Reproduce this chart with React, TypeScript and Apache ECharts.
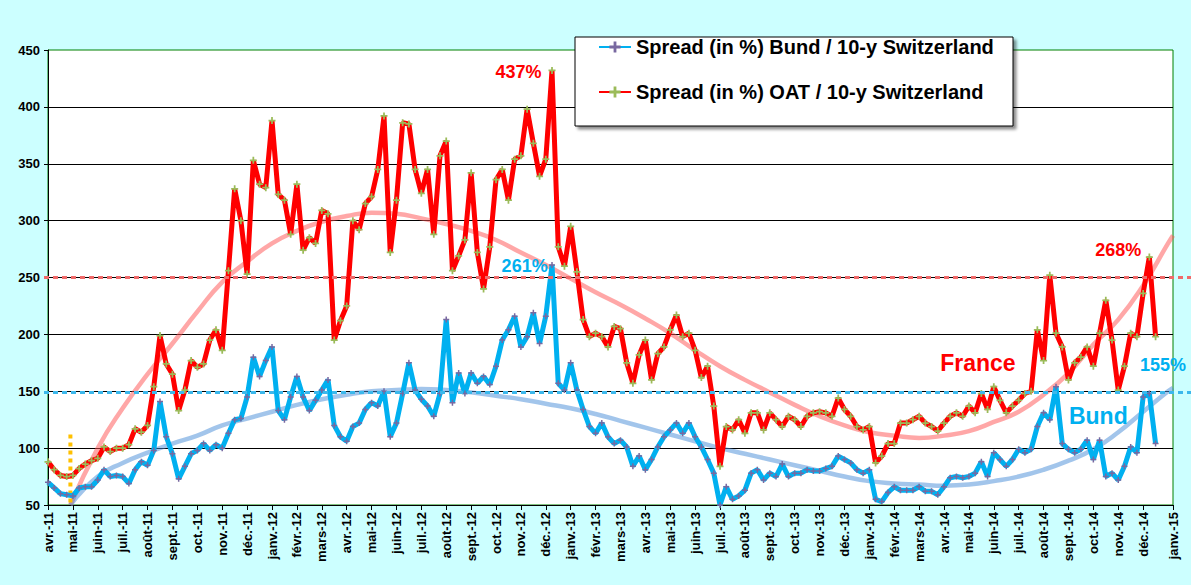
import { useEffect, useRef } from 'react'
import * as echarts from 'echarts'

// one tick per month, avr.-11 .. janv.-15
const monthLabels = [
  'avr.-11', 'mai-11', 'juin-11', 'juil.-11', 'août-11', 'sept.-11', 'oct.-11', 'nov.-11', 'déc.-11',
  'janv.-12', 'févr.-12', 'mars-12', 'avr.-12', 'mai-12', 'juin-12', 'juil.-12', 'août-12', 'sept.-12',
  'oct.-12', 'nov.-12', 'déc.-12', 'janv.-13', 'févr.-13', 'mars-13', 'avr.-13', 'mai-13', 'juin-13',
  'juil.-13', 'août-13', 'sept.-13', 'oct.-13', 'nov.-13', 'déc.-13', 'janv.-14', 'févr.-14', 'mars-14',
  'avr.-14', 'mai-14', 'juin-14', 'juil.-14', 'août-14', 'sept.-14', 'oct.-14', 'nov.-14', 'déc.-14',
  'janv.-15',
]

// weekly readings (4 per month), starting at avr.-11
const oatSpread = [
  88, 81, 76, 75, 76, 82, 86, 89,
  91, 101, 97, 100, 100, 103, 117, 114,
  120, 154, 199, 174, 165, 133, 151, 177,
  171, 174, 195, 204, 186, 256, 328, 300,
  253, 353, 332, 329, 388, 323, 318, 288,
  332, 274, 285, 280, 309, 306, 195, 212,
  225, 300, 292, 315, 321, 345, 392, 272,
  318, 386, 385, 345, 324, 345, 288, 357,
  370, 256, 269, 283, 342, 272, 240, 277,
  336, 345, 318, 354, 357, 398, 368, 339,
  354, 432, 277, 260, 295, 255, 213, 198,
  201, 198, 189, 207, 205, 175, 157, 182,
  195, 160, 183, 189, 204, 217, 198, 201,
  186, 162, 172, 137, 84, 119, 116, 125,
  113, 131, 131, 116, 131, 125, 119, 128,
  125, 119, 128, 131, 132, 131, 128, 144,
  134, 128, 119, 116, 119, 87, 93, 104,
  104, 122, 122, 125, 128, 122, 119, 115,
  122, 128, 131, 128, 137, 131, 148, 134,
  154, 142, 131, 137, 142, 148, 150, 204,
  177, 252, 201, 189, 160, 175, 180, 189,
  172, 201, 230, 195, 151, 172, 201, 198,
  236, 268, 198,
]

const bundSpread = [
  70, 65, 60, 59, 58, 65, 66, 66,
  72, 81, 75, 76, 75, 69, 81, 88,
  85, 98, 141, 110, 95, 73, 84, 95,
  98, 104, 98, 103, 100, 113, 125, 126,
  145, 180, 163, 177, 189, 133, 125, 145,
  163, 145, 133, 142, 151, 160, 120, 110,
  106, 119, 122, 134, 140, 137, 150, 110,
  122, 148, 175, 151, 143, 137, 128, 148,
  213, 140, 166, 148, 166, 157, 163, 156,
  172, 195, 204, 216, 189, 198, 219, 192,
  216, 261, 157, 151, 175, 151, 134, 119,
  113, 122, 110, 104, 107, 101, 84, 93,
  81, 90, 101, 110, 116, 122, 113, 122,
  110, 101, 90, 78, 50, 66, 55, 58,
  63, 78, 81, 72, 78, 75, 86, 75,
  78, 78, 81, 80, 80, 82, 84, 93,
  90, 87, 81, 78, 81, 55, 53, 61,
  66, 63, 63, 63, 66, 62, 62, 59,
  66, 74, 75, 74, 75, 78, 88, 75,
  96, 90, 84, 90, 99, 96, 99, 119,
  131, 125, 154, 104, 99, 96, 99, 107,
  90, 107, 75, 78, 72, 84, 101, 96,
  145, 148, 104,
]

// fitted trend curves, sampled monthly
const trendMonths = [
  0.9, 2, 3, 4, 5, 6, 7, 8, 9, 10, 11, 12, 13, 14, 15, 16, 17, 18, 19, 20, 21, 22, 23,
  24, 25, 26, 27, 28, 29, 30, 31, 32, 33, 34, 35, 36, 37, 38, 39, 40, 41, 42, 43, 44, 45, 45.2,
]
const oatTrend = [
  50, 100, 135, 165, 192, 220, 246, 264, 280, 291, 299, 304, 307, 306, 302, 297, 291, 283, 272, 261, 249, 237, 226,
  214, 201, 186, 172, 160, 149, 138, 128, 120, 114, 111, 109, 111, 115, 123, 132, 147, 166, 191, 213, 243, 280, 287,
]
const bundTrend = [
  50, 75, 87, 96, 104, 111, 120, 126, 132, 138, 143, 147, 150, 151, 152, 151, 149, 146, 143, 139, 135, 130, 124,
  118, 112, 106, 100, 95, 90, 85, 80, 75, 71, 69, 68, 67, 68, 71, 75, 81, 89, 99, 114, 132, 150, 153,
]

const yTicks = [50, 100, 150, 200, 250, 300, 350, 400, 450]
const refLevels = { oat: 250, bund: 149 }
const oldTargetMonth = 0.9
const oldTargetRange = [112, 50]

const BUND_NAME = 'Spread (in %) Bund / 10-y Switzerland'
const OAT_NAME = 'Spread (in %) OAT / 10-y Switzerland'
const STEP = 0.25

const PLUS = 'path://M3,0H5V3H8V5H5V8H3V5H0V3H3Z'
const FONT = 'Liberation Sans, Arial, sans-serif'

function App() {
  const chartRef = useRef<HTMLDivElement>(null)

  useEffect(() => {
    if (!chartRef.current) return
    const chart = echarts.init(chartRef.current, undefined, { renderer: 'svg' })

    const toPoints = (vals: number[]) => vals.map((v, i) => [i * STEP, v])
    const trendPoints = (vals: number[]) => vals.map((v, i) => [trendMonths[i], v])

    chart.setOption({
      animation: false,
      backgroundColor: '#ccffff',
      grid: {
        left: 48,
        right: 18,
        top: 50,
        bottom: 80,
        show: true,
        backgroundColor: '#ffffff',
        borderColor: '#008000',
        borderWidth: 1,
      },
      legend: {
        data: [BUND_NAME, OAT_NAME],
        orient: 'vertical',
        left: 598,
        top: 37,
        padding: 0,
        itemGap: 25,
        itemWidth: 32,
        itemHeight: 14,
        z: 6,
        textStyle: { fontFamily: FONT, fontWeight: 'bold', fontSize: 20, color: '#000' },
      },
      xAxis: {
        type: 'value',
        min: 0,
        max: 45.2,
        interval: 1,
        axisLine: { show: true, onZero: false, lineStyle: { color: '#000', width: 1 } },
        axisTick: { show: true, length: 5, lineStyle: { color: '#000' } },
        splitLine: { show: false },
        axisLabel: {
          rotate: 90,
          margin: 7,
          fontFamily: FONT,
          fontWeight: 'bold',
          fontSize: 13,
          color: '#000',
          showMaxLabel: true,
          formatter: (v: number) => monthLabels[Math.round(v)] ?? '',
        },
      },
      yAxis: {
        type: 'value',
        min: yTicks[0],
        max: yTicks[yTicks.length - 1],
        interval: 50,
        axisLine: { show: true, lineStyle: { color: '#000', width: 1 } },
        axisTick: { show: true, length: 4, lineStyle: { color: '#000' } },
        splitLine: { show: true, showMinLine: false, showMaxLine: false, lineStyle: { color: '#000', width: 1 } },
        axisLabel: { fontFamily: FONT, fontWeight: 'bold', fontSize: 13, color: '#000', margin: 8 },
      },
      series: [
        {
          name: 'trend-oat',
          type: 'line',
          data: trendPoints(oatTrend),
          smooth: true,
          showSymbol: false,
          silent: true,
          lineStyle: { color: 'rgba(255,80,80,0.5)', width: 4.5 },
          z: 1,
        },
        {
          name: 'trend-bund',
          type: 'line',
          data: trendPoints(bundTrend),
          smooth: true,
          showSymbol: false,
          silent: true,
          lineStyle: { color: 'rgba(70,140,215,0.5)', width: 4.5 },
          z: 1,
        },
        {
          name: 'old-target',
          type: 'line',
          data: oldTargetRange.map((v) => [oldTargetMonth, v]),
          showSymbol: false,
          silent: true,
          lineStyle: { color: '#ffc000', width: 4, type: [4, 4] },
          z: 1,
        },
        {
          name: BUND_NAME,
          type: 'line',
          data: toPoints(bundSpread),
          symbol: PLUS,
          symbolSize: 6,
          showAllSymbol: true,
          lineStyle: { color: '#00b0f0', width: 5 },
          itemStyle: { color: '#7868a0' },
          z: 2,
        },
        {
          name: OAT_NAME,
          type: 'line',
          data: toPoints(oatSpread),
          symbol: PLUS,
          symbolSize: 7,
          showAllSymbol: true,
          lineStyle: { color: '#ff0000', width: 5 },
          itemStyle: { color: '#9bbb59' },
          z: 3,
        },
      ],
    })

    const px = (x: number, y: number) => chart.convertToPixel({ gridIndex: 0 }, [x, y]) as number[]
    const width = chart.getWidth()
    const left = px(0, 50)[0] - 4

    const label = (text: string, x: number, y: number, color: string, size: number) => {
      const [cx, cy] = px(x, y)
      return {
        type: 'text',
        x: cx,
        y: cy,
        z: 10,
        style: {
          text,
          fill: color,
          fontFamily: FONT,
          fontWeight: 'bold',
          fontSize: size,
          align: 'center',
          verticalAlign: 'middle',
        },
      }
    }

    const yOat = px(0, refLevels.oat)[1]
    const yBund = px(0, refLevels.bund)[1]

    chart.setOption({
      graphic: [
        {
          type: 'line',
          z: 4,
          shape: { x1: left, y1: yOat, x2: width, y2: yOat },
          style: { stroke: '#f06a6a', lineWidth: 3, lineDash: [5, 4] },
        },
        {
          type: 'line',
          z: 4,
          shape: { x1: left, y1: yBund, x2: width, y2: yBund },
          style: { stroke: '#3cb8ec', lineWidth: 3, lineDash: [5, 4] },
        },
        {
          type: 'rect',
          z: 5,
          shape: { x: 575, y: 37, width: 438, height: 89 },
          style: {
            fill: '#fff',
            stroke: '#000',
            lineWidth: 1,
            shadowColor: 'rgba(0,0,0,0.45)',
            shadowOffsetX: 3,
            shadowOffsetY: 3,
            shadowBlur: 3,
          },
        },
        label('437%', 18.9, 431, '#ff0000', 18),
        label('261%', 19.15, 260, '#00b0f0', 18),
        label('268%', 43.0, 274, '#ff0000', 18),
        label('155%', 44.8, 173, '#00b0f0', 18),
        label('France', 37.36, 175, '#ff0000', 23),
        label('Bund', 42.2, 128, '#00b0f0', 23),
      ],
    })

    return () => {
      chart.dispose()
    }
  }, [])

  return (
    <div
      ref={chartRef}
      style={{ position: 'fixed', left: 0, top: 0, width: 1191, height: 585 }}
    />
  )
}

export default App
